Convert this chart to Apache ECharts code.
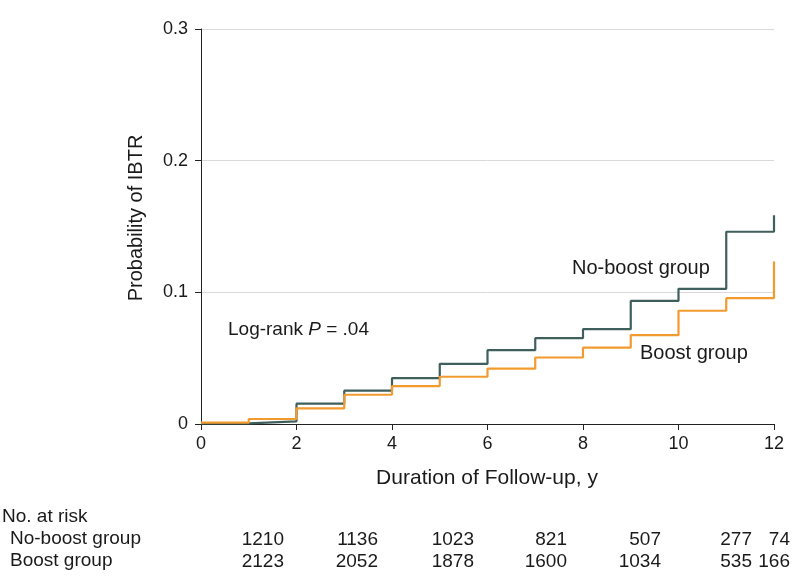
<!DOCTYPE html>
<html>
<head>
<meta charset="utf-8">
<script src="https://cdn.jsdelivr.net/npm/echarts@6/dist/echarts.min.js"></script>
<style>html,body{margin:0;padding:0;background:#fff}#c{width:798px;height:588px}</style>
</head>
<body>
<div id="c"></div>
<script>
// Data
var years = [0,1,2,3,4,5,6,7,8,9,10,11,12];
var noBoost = [0.0005,0.002,0.0154,0.0253,0.0349,0.0457,0.0561,0.0652,0.072,0.0935,0.1027,0.146,0.1586];
var boost   = [0.001,0.0038,0.0118,0.0222,0.0288,0.0359,0.042,0.0505,0.058,0.0675,0.086,0.0956,0.1234];
var riskNoBoost = ['1210','1136','1023','821','507','277','74'];
var riskBoost   = ['2123','2052','1878','1600','1034','535','166'];
var riskTitle = 'No. at risk';
var groupNames = ['No-boost group','Boost group'];

var FONT = '"Liberation Sans", Arial, sans-serif';
var TXT = '#1a1a1a';
function pairs(v){ return years.map(function(x,i){ return [x, v[i]]; }); }

var riskRight = [284,378,474,567,661,752,790];
var graphics = [];
graphics.push({type:'text', left:2, top:507, style:{text:riskTitle, font:'19px '+FONT, fill:TXT}});
graphics.push({type:'text', left:10, top:529, style:{text:groupNames[0], font:'19px '+FONT, fill:TXT}});
graphics.push({type:'text', left:10, top:551, style:{text:groupNames[1], font:'19px '+FONT, fill:TXT}});
riskNoBoost.forEach(function(t,i){
  graphics.push({type:'text', x:riskRight[i], y:540, style:{text:t, font:'19px '+FONT, fill:TXT, textAlign:'right', textVerticalAlign:'middle'}});
});
riskBoost.forEach(function(t,i){
  graphics.push({type:'text', x:riskRight[i], y:562, style:{text:t, font:'19px '+FONT, fill:TXT, textAlign:'right', textVerticalAlign:'middle'}});
});
// annotations
graphics.push({type:'text', x:572, y:268, style:{text:groupNames[0], font:'20px '+FONT, fill:TXT, textVerticalAlign:'middle'}});
graphics.push({type:'text', x:640, y:353, style:{text:groupNames[1], font:'20px '+FONT, fill:TXT, textVerticalAlign:'middle'}});
graphics.push({type:'text', x:228, y:330, style:{
  rich:{n:{font:'19px '+FONT, fill:TXT}, i:{font:'italic 19px '+FONT, fill:TXT}},
  text:'{n|Log-rank }{i|P}{n| = .04}', textVerticalAlign:'middle'}});
// axis titles
graphics.push({type:'text', x:487, y:478, style:{text:'Duration of Follow-up, y', font:'21px '+FONT, fill:TXT, textAlign:'center', textVerticalAlign:'middle'}});
graphics.push({type:'text', x:136, y:218, rotation:Math.PI/2, style:{text:'Probability of IBTR', font:'20px '+FONT, fill:TXT, textAlign:'center', textVerticalAlign:'middle'}});

var chart = echarts.init(document.getElementById('c'), null, {renderer:'canvas'});
chart.setOption({
  animation:false,
  backgroundColor:'#fff',
  grid:{left:201, right:24, top:29, bottom:164, containLabel:false},
  xAxis:{type:'value', min:0, max:12, interval:2,
    axisLine:{show:true, lineStyle:{color:'#222', width:1}},
    axisTick:{show:true, inside:false, length:6, lineStyle:{color:'#222'}},
    axisLabel:{color:TXT, fontSize:18, fontFamily:FONT, margin:11},
    splitLine:{show:false}},
  yAxis:{type:'value', min:0, max:0.3, interval:0.1,
    axisLine:{show:true, lineStyle:{color:'#222', width:1}},
    axisTick:{show:true, inside:false, length:6, lineStyle:{color:'#222'}},
    axisLabel:{color:TXT, fontSize:18, fontFamily:FONT, margin:13,
      formatter:function(v){ return v===0 ? '0' : v.toFixed(1); }},
    splitLine:{show:true, lineStyle:{color:'#d9d9d9', width:1}}},
  series:[
    {type:'line', name:groupNames[0], step:'end', data:pairs(noBoost), showSymbol:false, symbol:'none',
      lineStyle:{color:'#3e5f5c', width:2.2}, z:3},
    {type:'line', name:groupNames[1], step:'end', data:pairs(boost), showSymbol:false, symbol:'none',
      lineStyle:{color:'#f39a2e', width:2.2}, z:4}
  ],
  graphic:graphics
});
</script>
</body>
</html>
